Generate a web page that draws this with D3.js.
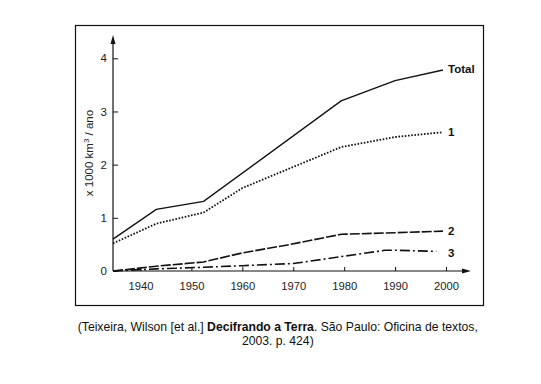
<!DOCTYPE html>
<html><head><meta charset="utf-8">
<script src="https://cdn.jsdelivr.net/npm/d3@7"></script>
<style>body{margin:0;background:#fff}svg{display:block}text{font-family:"Liberation Sans",Arial,sans-serif}</style>
</head><body>
<script>
const years = {
  total: [1934.6, 1943.1, 1952.4, 1979.4, 1990, 1999.4],
  s1:    [1934.6, 1943.1, 1952.4, 1960, 1979.4, 1990, 1999.4],
  s2:    [1934.6, 1943.1, 1952.4, 1960, 1969.4, 1979.4, 1990, 1999.4],
  s3:    [1934.6, 1943.1, 1952.4, 1960, 1970, 1979.4, 1988, 1990, 1998.1]
};
const totalValues = [0.60, 1.16, 1.31, 3.20, 3.58, 3.78];
const s1Values    = [0.52, 0.89, 1.10, 1.56, 2.33, 2.52, 2.61];
const s2Values    = [0.00, 0.09, 0.17, 0.34, 0.50, 0.69, 0.72, 0.75];
const s3Values    = [0.00, 0.04, 0.07, 0.10, 0.14, 0.27, 0.39, 0.39, 0.37];
const xTicks = [1940, 1950, 1960, 1970, 1980, 1990, 2000];
const yTicks = [0, 1, 2, 3, 4];
const seriesLabels = ["Total", "1", "2", "3"];

const W = 541, H = 384;
const svg = d3.select("body").append("svg").attr("width", W).attr("height", H);

svg.append("rect").attr("x", 75.5).attr("y", 25.5).attr("width", 408).attr("height", 280)
  .attr("fill", "none").attr("stroke", "#111").attr("stroke-width", 1.2);

const x = d3.scaleLinear().domain([1940, 2000]).range([140.5, 446]);
const y = d3.scaleLinear().domain([0, 4]).range([271, 58.3]);
const x0 = x(1934.6), yTop = 35, xEnd = 471;

svg.append("line").attr("x1", x0).attr("x2", x0).attr("y1", y(0)).attr("y2", yTop + 6)
  .attr("stroke", "#111").attr("stroke-width", 1.2);
svg.append("path").attr("d", `M${x0},${yTop} L${x0-2.5},${yTop+9} L${x0+2.5},${yTop+9}Z`).attr("fill", "#111");
svg.append("line").attr("x1", x0).attr("x2", xEnd - 6).attr("y1", y(0)).attr("y2", y(0))
  .attr("stroke", "#111").attr("stroke-width", 1.2);
svg.append("path").attr("d", `M${xEnd},${y(0)} L${xEnd-9},${y(0)-2.5} L${xEnd-9},${y(0)+2.5}Z`).attr("fill", "#111");

const gy = svg.append("g").attr("transform", `translate(${x0},0)`)
  .call(d3.axisRight(y).tickValues(yTicks).tickSize(5).tickFormat(d3.format("d")));
gy.select(".domain").remove();
gy.selectAll("line").attr("stroke", "#111");
gy.selectAll("text").attr("x", -6).attr("text-anchor", "end").attr("font-size", 11.5).attr("fill", "#222")
  .attr("font-family", "Liberation Sans, Arial, sans-serif");

const gx = svg.append("g").attr("transform", `translate(0,${y(0)})`)
  .call(d3.axisTop(x).tickValues(xTicks).tickSize(4).tickFormat(d3.format("d")));
gx.select(".domain").remove();
gx.selectAll("line").attr("stroke", "#111");
gx.selectAll("text").attr("y", 18.7).attr("dy", "0").attr("font-size", 11.2).attr("fill", "#222")
  .attr("font-family", "Liberation Sans, Arial, sans-serif");

svg.append("text").attr("transform", `translate(93,153) rotate(-90)`).attr("text-anchor", "middle")
  .attr("font-size", 11.5).attr("fill", "#222")
  .html('x 1000 km<tspan dy="-4" font-size="8">3</tspan><tspan dy="4"> / ano</tspan>');

const line = d3.line().x(d => x(d[0])).y(d => y(d[1]));
const series = [
  {yr: years.total, v: totalValues, dash: null, w: 1.4},
  {yr: years.s1, v: s1Values, dash: "1.6,1.6", w: 1.8},
  {yr: years.s2, v: s2Values, dash: "10,2", w: 1.6},
  {yr: years.s3, v: s3Values, dash: "10,3,2,3", w: 1.6}
];
series.forEach(s => {
  svg.append("path").datum(s.yr.map((d, i) => [d, s.v[i]]))
    .attr("d", line).attr("fill", "none").attr("stroke", "#111")
    .attr("stroke-width", s.w).attr("stroke-dasharray", s.dash);
});

const labelY = [3.80, 2.61, 0.75, 0.34];
seriesLabels.forEach((t, i) => {
  svg.append("text").attr("x", 448).attr("y", y(labelY[i])).attr("dy", "0.36em")
    .attr("font-size", 11.5).attr("font-weight", "bold").attr("fill", "#111").text(t);
});

const cap = svg.append("text").attr("x", 277.8).attr("y", 330.7).attr("text-anchor", "middle")
  .attr("font-size", 12.2).attr("fill", "#111");
cap.append("tspan").text("(Teixeira, Wilson [et al.] ");
cap.append("tspan").attr("font-weight", "bold").text("Decifrando a Terra");
cap.append("tspan").text(". São Paulo: Oficina de textos,");
svg.append("text").attr("x", 277.8).attr("y", 345.3).attr("text-anchor", "middle")
  .attr("font-size", 12.2).attr("fill", "#111").text("2003. p. 424)");
</script>
</body></html>
